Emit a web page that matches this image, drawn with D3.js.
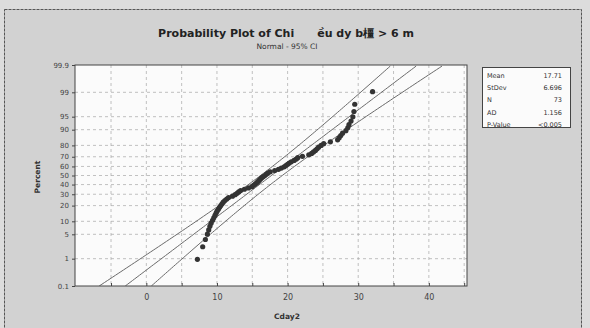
<!DOCTYPE html>
<html>
<head>
<meta charset="utf-8">
<script src="https://cdn.jsdelivr.net/npm/d3@7"></script>
<style>
  html, body { margin: 0; padding: 0; background: #dcdcdc; }
  svg { display: block; }
</style>
</head>
<body>
<svg id="chart" width="590" height="328"></svg>
<script>
// ---- data ----
const cday2 = [
  7.23, 7.98, 8.36, 8.64, 8.83, 9.00, 9.17, 9.38, 9.55, 9.72,
  9.87, 10.01, 10.20, 10.37, 10.54, 10.72, 10.89, 11.12, 11.38, 11.64,
  12.19, 12.57, 12.84, 13.08, 13.35, 13.88, 14.46, 14.96, 15.18, 15.40,
  15.61, 15.79, 15.96, 16.13, 16.31, 16.54, 16.77, 16.99, 17.19, 17.54,
  18.18, 18.71, 19.12, 19.52, 19.76, 20.00, 20.24, 20.52, 20.92, 21.23,
  21.44, 22.10, 23.00, 23.40, 23.67, 23.94, 24.17, 24.39, 24.75, 25.11,
  26.06, 27.08, 27.30, 27.53, 27.78, 28.25, 28.52, 28.69, 28.98, 29.24,
  29.39, 29.51, 32.03
];
const statLabels = ["Mean", "StDev", "N", "AD", "P-Value"];
const statValues = ["17.71", "6.696", "73", "1.156", "<0.005"];
const fitMean = 17.71;
const fitStDev = 6.696;
const fitN = 73;
const percentTicks = [0.1, 1, 5, 10, 20, 30, 40, 50, 60, 70, 80, 90, 95, 99, 99.9];
const percentTickLabels = ["0.1", "1", "5", "10", "20", "30", "40", "50", "60", "70", "80", "90", "95", "99", "99.9"];
const xTicks = [0, 10, 20, 30, 40];
const xGrid = [-5, 0, 5, 10, 15, 20, 25, 30, 35, 40, 45];
const titleText = "Probability Plot of Chi      \u1EC1u dy b\u6A7F > 6 m";
const subtitleText = "Normal - 95% CI";
const xLabel = "Cday2";
const yLabel = "Percent";

// ---- layout ----
const svg = d3.select("#chart");
const L = 75, R = 467, T = 65, B = 286;

// inverse normal (Acklam)
function probit(p) {
  const a = [-3.969683028665376e+01, 2.209460984245205e+02, -2.759285104469687e+02, 1.383577518672690e+02, -3.066479806614716e+01, 2.506628277459239e+00];
  const b = [-5.447609879822406e+01, 1.615858368580409e+02, -1.556989798598866e+02, 6.680131188771972e+01, -1.328068155288572e+01];
  const c = [-7.784894002430293e-03, -3.223964580411365e-01, -2.400758277161838e+00, -2.549732539343734e+00, 4.374664141464968e+00, 2.938163982698783e+00];
  const d = [7.784695709041462e-03, 3.224671290700398e-01, 2.445134137142996e+00, 3.754408661907416e+00];
  const pl = 0.02425, ph = 1 - pl;
  let q, r;
  if (p < pl) { q = Math.sqrt(-2 * Math.log(p)); return (((((c[0]*q+c[1])*q+c[2])*q+c[3])*q+c[4])*q+c[5]) / ((((d[0]*q+d[1])*q+d[2])*q+d[3])*q+1); }
  if (p > ph) { q = Math.sqrt(-2 * Math.log(1 - p)); return -(((((c[0]*q+c[1])*q+c[2])*q+c[3])*q+c[4])*q+c[5]) / ((((d[0]*q+d[1])*q+d[2])*q+d[3])*q+1); }
  q = p - 0.5; r = q * q;
  return (((((a[0]*r+a[1])*r+a[2])*r+a[3])*r+a[4])*r+a[5])*q / (((((b[0]*r+b[1])*r+b[2])*r+b[3])*r+b[4])*r+1);
}

const zTop = probit(0.999);
const x = d3.scaleLinear().domain([-10.1, 45.4]).range([L, R]);
const y = d3.scaleLinear().domain([-zTop, zTop]).range([B, T]);

// frame
svg.append("rect").attr("x", 4.5).attr("y", 9.5).attr("width", 577).attr("height", 330)
  .attr("fill", "#d2d2d2").attr("stroke", "#555").attr("stroke-width", 1).attr("stroke-dasharray", "3,1");

// title
svg.append("text").attr("x", 286).attr("y", 37).attr("text-anchor", "middle")
  .attr("font-family", "DejaVu Sans").attr("font-weight", "bold").attr("font-size", 11)
  .style("white-space", "pre").attr("xml:space", "preserve")
  .attr("fill", "#222").text(titleText);
svg.append("text").attr("x", 287).attr("y", 49).attr("text-anchor", "middle")
  .attr("font-family", "DejaVu Sans").attr("font-size", 7.5)
  .attr("fill", "#333").text(subtitleText);

// plot area
svg.append("rect").attr("x", L).attr("y", T).attr("width", R - L).attr("height", B - T)
  .attr("fill", "#fbfbfb");

const defs = svg.append("defs");
defs.append("clipPath").attr("id", "clip").append("rect")
  .attr("x", L).attr("y", T).attr("width", R - L).attr("height", B - T);

// gridlines
const grid = svg.append("g").attr("stroke", "#a8a8a8").attr("stroke-width", 0.7).attr("stroke-dasharray", "3,3");
grid.selectAll("line.v").data(xGrid.filter(v => x(v) > L + 1 && x(v) < R - 1)).join("line")
  .attr("x1", d => x(d)).attr("x2", d => x(d)).attr("y1", T).attr("y2", B);
grid.selectAll("line.h").data(percentTicks.slice(1, -1)).join("line")
  .attr("y1", d => y(probit(d / 100))).attr("y2", d => y(probit(d / 100))).attr("x1", L).attr("x2", R);

// fitted line and 95% CI
const zs = d3.range(-zTop, zTop + 0.0001, 0.05);
const se = z => fitStDev / Math.sqrt(fitN) * Math.sqrt(1 + z * z / 2);
const lineGen = d3.line().x(d => x(d[0])).y(d => y(d[1]));
const fitG = svg.append("g").attr("clip-path", "url(#clip)").attr("fill", "none")
  .attr("stroke", "#6a6a6a").attr("stroke-width", 1);
fitG.append("path").attr("d", lineGen(zs.map(z => [fitMean + z * fitStDev, z])));
fitG.append("path").attr("d", lineGen(zs.map(z => [fitMean + z * fitStDev - 1.96 * se(z), z])));
fitG.append("path").attr("d", lineGen(zs.map(z => [fitMean + z * fitStDev + 1.96 * se(z), z])));

// points (median ranks)
const n = cday2.length;
svg.append("g").selectAll("circle").data(cday2).join("circle")
  .attr("cx", d => x(d))
  .attr("cy", (d, i) => y(probit((i + 1 - 0.3) / (n + 0.4))))
  .attr("r", 2.6).attr("fill", "#333");

// plot border
svg.append("rect").attr("x", L).attr("y", T).attr("width", R - L).attr("height", B - T)
  .attr("fill", "none").attr("stroke", "#444").attr("stroke-width", 1);

// y axis
const yAxis = d3.axisLeft(y).tickValues(percentTicks.map(p => probit(p / 100)))
  .tickFormat((d, i) => percentTickLabels[i]).tickSize(3).tickPadding(3);
const yg = svg.append("g").attr("transform", `translate(${L},0)`).call(yAxis);
yg.select(".domain").remove();
yg.selectAll("text").attr("font-family", "DejaVu Sans").attr("font-size", 7).attr("fill", "#444");
yg.selectAll("line").attr("stroke", "#444");

// x axis
const xAxis = d3.axisBottom(x).tickValues(xGrid.filter(v => x(v) >= L && x(v) <= R))
  .tickFormat(d => xTicks.includes(d) ? d : "").tickSize(3).tickPadding(5);
const xg = svg.append("g").attr("transform", `translate(0,${B})`).call(xAxis);
xg.select(".domain").remove();
xg.selectAll("text").attr("font-family", "DejaVu Sans").attr("font-size", 8).attr("fill", "#444");
xg.selectAll("line").attr("stroke", "#444").attr("y2", -3);

// axis labels
svg.append("text").attr("x", 287).attr("y", 319).attr("text-anchor", "middle")
  .attr("font-family", "DejaVu Sans").attr("font-weight", "bold").attr("font-size", 7.5)
  .attr("fill", "#333").text(xLabel);
svg.append("text").attr("transform", "translate(40,177) rotate(-90)").attr("text-anchor", "middle")
  .attr("font-family", "DejaVu Sans").attr("font-weight", "bold").attr("font-size", 7.5)
  .attr("fill", "#333").text(yLabel);

// legend box
const lg = svg.append("g");
lg.append("rect").attr("x", 482.5).attr("y", 67.5).attr("width", 88).attr("height", 60)
  .attr("fill", "#fbfbfb").attr("stroke", "#444").attr("stroke-width", 1);
statLabels.forEach((s, i) => {
  lg.append("text").attr("x", 487).attr("y", 78 + i * 12.2)
    .attr("font-family", "DejaVu Sans").attr("font-size", 6.5).attr("fill", "#333").text(s);
  lg.append("text").attr("x", 562).attr("y", 78 + i * 12.2).attr("text-anchor", "end")
    .attr("font-family", "DejaVu Sans").attr("font-size", 6.5).attr("fill", "#333").text(statValues[i]);
});
</script>
</body>
</html>
